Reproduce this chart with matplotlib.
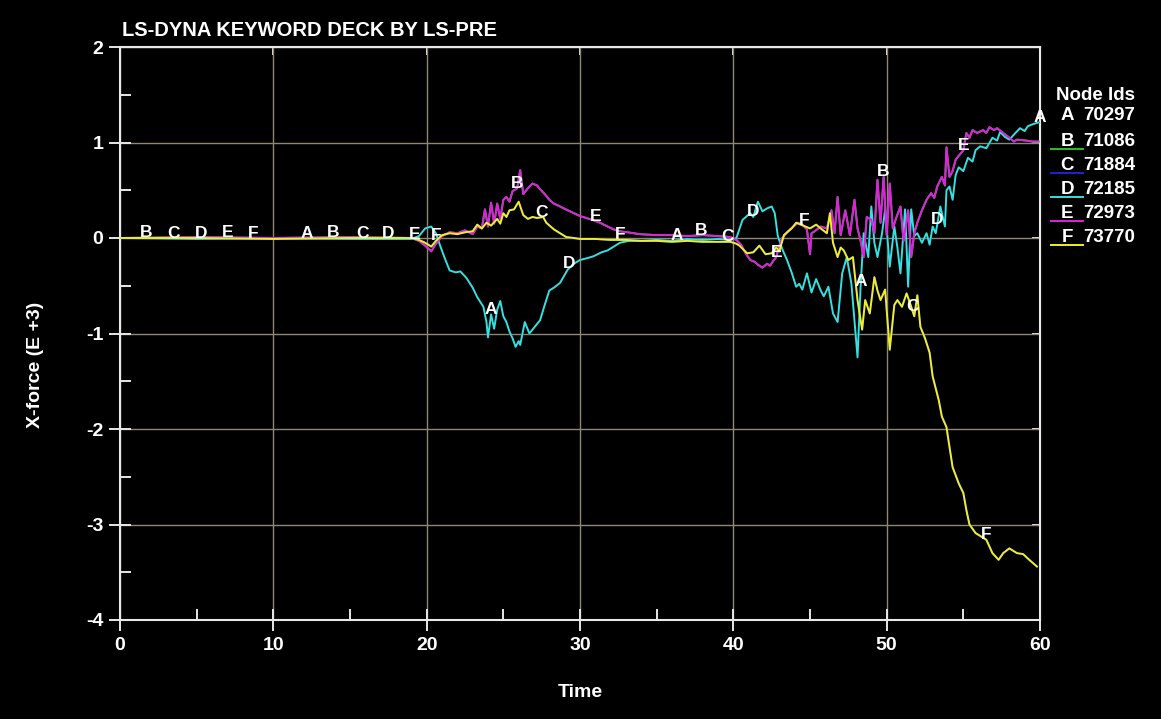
import numpy as np
import matplotlib
matplotlib.use("Agg")
import matplotlib.pyplot as plt
from matplotlib.lines import Line2D

plt.rcParams['font.family'] = ['Liberation Sans Narrow', 'Liberation Sans', 'DejaVu Sans']
plt.rcParams['font.weight'] = 'bold'
plt.rcParams['axes.unicode_minus'] = False

# ---- data (time, X-force in E+3) ----
node_ids = ['70297', '71086', '71884', '72185', '72973', '73770']
letters = ['A', 'B', 'C', 'D', 'E', 'F']
colors = ['#000000', '#22c322', '#2020e0', '#35e0e0', '#e020e0', '#f0f020']

d_time = [0, 5, 10, 15, 19.0, 19.5, 19.9, 20.3, 20.6, 20.9,
          21.2, 21.5, 21.9, 22.2, 22.6, 23.0, 23.3, 23.7, 23.9, 24.0,
          24.2, 24.4, 24.6, 24.8, 25.0, 25.2, 25.4, 25.6, 25.8, 26.0,
          26.1, 26.4, 26.7, 27.0, 27.4, 27.7, 28.0, 28.3, 28.7, 29.2,
          29.6, 30.0, 30.5, 30.9, 31.4, 31.8, 32.2, 32.6, 33.2, 34,
          35, 36, 37, 38, 39, 39.8, 40.2, 40.6, 41.1, 41.3,
          41.6, 41.9, 42.2, 42.5, 42.7, 42.9, 43.2, 43.5, 43.8, 44.1,
          44.3, 44.5, 44.8, 45.1, 45.4, 45.7, 45.9, 46.2, 46.5, 46.8,
          47.1, 47.4, 47.7, 48.1, 48.3, 48.5, 48.8, 49.0, 49.2, 49.4,
          49.7, 49.9, 50.2, 50.5, 50.7, 50.9, 51.2, 51.4, 51.6, 51.8,
          52.0, 52.3, 52.6, 52.8, 53.0, 53.2, 53.5, 53.8, 53.9, 54.1,
          54.3, 54.5, 54.7, 55.0, 55.3, 55.6, 55.8, 56.1, 56.5, 56.9,
          57.2, 57.4, 57.7, 58.0, 58.4, 58.7, 59.0, 59.2, 59.5, 59.9]
d_force = [0.0, -0.01, 0.0, -0.01, -0.01, 0.02, 0.10, 0.12, 0.05, -0.09,
           -0.22, -0.34, -0.36, -0.35, -0.42, -0.52, -0.62, -0.72, -0.88, -1.04,
           -0.80, -0.95, -0.75, -0.66, -0.82, -0.88, -0.98, -1.05, -1.14, -1.08,
           -1.12, -0.88, -1.00, -0.94, -0.86, -0.70, -0.55, -0.52, -0.47, -0.33,
           -0.27, -0.23, -0.21, -0.19, -0.15, -0.13, -0.09, -0.05, -0.03, -0.03,
           -0.02, -0.03, -0.01, -0.02, -0.01, -0.02, 0.00, 0.19, 0.26, 0.22,
           0.38, 0.28, 0.31, 0.33, 0.26, 0.02, -0.12, -0.23, -0.36, -0.51,
           -0.48, -0.54, -0.37, -0.57, -0.43, -0.55, -0.61, -0.51, -0.79, -0.88,
           -0.37, -0.20, -0.48, -1.25, -0.51, 0.05, -0.20, 0.33, -0.05, -0.20,
           0.05, 0.30, -0.30, 0.12, -0.10, -0.37, 0.30, -0.51, 0.30, 0.02,
           0.05, -0.05, 0.05, -0.07, 0.12, 0.05, 0.33, 0.12, 0.50, 0.54,
           0.40, 0.66, 0.74, 0.70, 0.84, 0.80, 0.92, 0.96, 0.94, 1.05,
           1.02, 1.11, 1.06, 1.03, 1.10, 1.15, 1.12, 1.17, 1.19, 1.21]

e_time = [0, 5, 10, 15, 19.0, 19.5, 19.9, 20.3, 20.6, 21.0,
          21.5, 22.0, 22.5, 23.0, 23.3, 23.6, 23.8, 24.0, 24.2, 24.4,
          24.6, 24.8, 25.0, 25.2, 25.4, 25.6, 25.9, 26.1, 26.3, 26.6,
          26.9, 27.2, 27.4, 27.7, 28.0, 28.3, 28.7, 29.2, 29.6, 30.0,
          30.4, 30.8, 31.3, 31.8, 32.2, 32.6, 33.1, 33.9, 35, 36,
          37, 38, 39, 39.8, 40.2, 40.5, 40.8, 41.1, 41.4, 41.6,
          41.9, 42.2, 42.4, 42.6, 42.8, 43.0, 43.2, 43.5, 43.7, 44.0,
          44.2, 44.5, 44.8, 45.0, 45.1, 45.3, 45.7, 46.1, 46.4, 46.6,
          46.8, 47.0, 47.3, 47.6, 47.9, 48.1, 48.3, 48.5, 48.7, 49.0,
          49.2, 49.4, 49.6, 49.8, 50.0, 50.2, 50.4, 50.6, 50.9, 51.1,
          51.4, 51.6, 51.8, 52.0, 52.3, 52.6, 52.9, 53.1, 53.3, 53.6,
          53.8, 53.9, 54.1, 54.3, 54.5, 54.8, 55.0, 55.2, 55.4, 55.6,
          55.9, 56.3, 56.5, 56.7, 57.0, 57.2, 57.6, 58.0, 58.3, 58.5,
          59.1, 59.5, 59.9]
e_force = [0.0, 0.01, 0.0, 0.01, 0.0, -0.03, -0.08, -0.14, -0.06, 0.02,
           0.06, 0.05, 0.08, 0.04, 0.12, 0.10, 0.30, 0.12, 0.37, 0.15,
           0.36, 0.20, 0.40, 0.43, 0.38, 0.49, 0.52, 0.71, 0.46, 0.52,
           0.57, 0.55, 0.51, 0.46, 0.40, 0.36, 0.33, 0.29, 0.26, 0.23,
           0.21, 0.19, 0.16, 0.12, 0.09, 0.07, 0.06, 0.04, 0.03, 0.03,
           0.02, 0.03, 0.02, 0.01, -0.02, -0.07, -0.16, -0.23, -0.25, -0.28,
           -0.31, -0.27, -0.29, -0.24, -0.20, -0.08, 0.00, 0.06, 0.09, 0.13,
           0.16, 0.14, 0.09, -0.17, 0.05, 0.07, 0.12, 0.10, 0.29, 0.05,
           0.43, 0.03, 0.29, 0.03, 0.40, 0.10, -0.03, -0.20, 0.22, 0.19,
           0.05, 0.61, 0.16, 0.64, 0.03, 0.57, 0.10, 0.20, 0.33, -0.03,
           0.29, -0.20, 0.05, 0.16, 0.29, 0.40, 0.47, 0.42, 0.54, 0.64,
           0.55, 0.95, 0.64, 0.70, 0.82, 0.88, 0.92, 1.10, 1.05, 1.13,
           1.10, 1.13, 1.10, 1.16, 1.13, 1.15, 1.10, 1.05, 1.01, 1.03,
           1.02, 1.01, 1.01]

f_time = [0, 5, 10, 15, 19.0, 19.5, 19.9, 20.3, 20.6, 21.0,
          21.5, 22.0, 22.5, 23.0, 23.3, 23.6, 23.9, 24.2, 24.6, 24.8,
          25.0, 25.2, 25.4, 25.7, 26.0, 26.3, 26.6, 26.9, 27.2, 27.6,
          27.8, 28.3, 28.7, 29.1, 29.6, 30.0, 31, 32, 33, 34,
          35, 36, 37, 38, 39, 39.8, 40.2, 40.4, 40.9, 41.3,
          41.7, 42.1, 42.5, 42.8, 43.0, 43.3, 43.8, 44.1, 44.4, 44.7,
          45.0, 45.4, 45.7, 46.1, 46.3, 46.5, 46.8, 47.0, 47.2, 47.5,
          47.8, 48.1, 48.4, 48.6, 48.9, 49.2, 49.4, 49.6, 49.9, 50.0,
          50.2, 50.5, 50.7, 51.0, 51.3, 51.6, 51.8, 52.0, 52.2, 52.5,
          52.6, 52.8, 53.0, 53.4, 53.6, 53.9, 54.1, 54.3, 54.7, 55.0,
          55.2, 55.4, 55.8, 56.1, 56.5, 56.9, 57.3, 57.6, 58.0, 58.5,
          58.9, 59.3, 59.8]
f_force = [0.0, 0.0, -0.01, 0.0, 0.0, -0.02, -0.05, -0.09, -0.03, 0.03,
           0.05, 0.04, 0.06, 0.07, 0.14, 0.10, 0.16, 0.13, 0.20, 0.15,
           0.26, 0.22, 0.29, 0.30, 0.38, 0.24, 0.20, 0.22, 0.21, 0.22,
           0.16, 0.09, 0.05, 0.01, 0.00, -0.01, -0.01, -0.02, -0.02, -0.03,
           -0.03, -0.04, -0.03, -0.04, -0.04, -0.04, -0.06, -0.08, -0.16, -0.15,
           -0.08, -0.17, -0.16, -0.10, -0.14, 0.03, 0.10, 0.16, 0.14, 0.12,
           0.10, 0.14, 0.10, 0.05, 0.26, -0.05, -0.20, -0.10, -0.13, -0.23,
           -0.20, -0.65, -0.96, -0.65, -0.79, -0.41, -0.55, -0.65, -0.54, -0.75,
           -1.17, -0.70, -0.65, -0.72, -0.58, -0.72, -0.82, -0.60, -0.93, -1.05,
           -1.10, -1.20, -1.45, -1.70, -1.87, -1.98, -2.19, -2.40, -2.57, -2.67,
           -2.85, -3.00, -3.09, -3.12, -3.16, -3.30, -3.37, -3.30, -3.25, -3.30,
           -3.31, -3.37, -3.44]

# nodes A, B, C run underneath D, E, F in the picture
a_time, a_force = d_time, d_force
b_time, b_force = e_time, e_force
c_time, c_force = f_time, f_force

label_times = [
    [12.2, 24.2, 36.3, 48.3, 60.0],
    [1.7, 13.9, 25.9, 37.9, 49.8],
    [3.5, 15.8, 27.5, 39.6, 51.7],
    [5.3, 17.5, 29.3, 41.3, 53.3],
    [7.0, 19.2, 31.0, 42.8, 55.0],
    [8.7, 20.6, 32.6, 44.6, 56.5],
]

series = [(a_time, a_force), (b_time, b_force), (c_time, c_force),
          (d_time, d_force), (e_time, e_force), (f_time, f_force)]

fg = '#e8e8e8'
grid_c = '#8e8776'
major_x = [0, 10, 20, 30, 40, 50, 60]
major_y = [-4, -3, -2, -1, 0, 1, 2]

fig = plt.figure(figsize=(11.61, 7.19), dpi=100, facecolor='black')
ax = fig.add_axes([120 / 1161, 1 - 620 / 719, 920 / 1161, 573 / 719])
ax.set_facecolor('black')

for (t, v), c in zip(series, colors):
    ax.plot(t, v, color=c, lw=1.4, zorder=3)

for (t, v), lab, times in zip(series, letters, label_times):
    for lt in times:
        ax.annotate(lab, (lt, np.interp(lt, t, v)), xytext=(0, 5),
                    textcoords='offset pixels', ha='center', va='center',
                    color='white', fontsize=12.5, fontweight='bold',
                    zorder=5, annotation_clip=False)

ax.set_xlim(0, 60)
ax.set_ylim(-4, 2)
ax.set_xticks(major_x)
ax.set_yticks(major_y)
ax.set_xticks([5, 15, 25, 35, 45, 55], minor=True)
ax.set_yticks([-3.5, -2.5, -1.5, -0.5, 0.5, 1.5], minor=True)
ax.grid(True, which='major', color=grid_c, lw=1.0)
ax.set_axisbelow(True)

for s in ax.spines.values():
    s.set_color(fg)
    s.set_linewidth(1.5)

ax.tick_params(which='major', direction='inout', length=16, width=1.4,
               colors=fg, labelsize=14, pad=4)
ax.tick_params(which='minor', direction='in', length=8, width=1.4, colors=fg)
ax.tick_params(axis='x', which='major', pad=4)
for lbl in ax.get_xticklabels() + ax.get_yticklabels():
    lbl.set_fontweight('bold')
    lbl.set_color('white')

# short inward ticks on the top and right frame
top = ax.secondary_xaxis('top')
top.set_xticks(major_x)
top.tick_params(direction='in', length=6, width=1.4, colors=fg, labeltop=False)
top.spines['top'].set_color(fg)
right = ax.secondary_yaxis('right')
right.set_yticks(major_y)
right.tick_params(direction='in', length=6, width=1.4, colors=fg, labelright=False)
right.spines['right'].set_color(fg)

ax.set_xlabel('Time', color='white', fontsize=14, fontweight='bold', labelpad=22)
ax.set_ylabel('X-force (E +3)', color='white', fontsize=14, fontweight='bold')
ax.yaxis.set_label_coords(-0.083, 0.445)

fig.text(122 / 1161, 1 - 30 / 719, 'LS-DYNA KEYWORD DECK BY LS-PRE',
         color='white', fontsize=14.5, fontweight='bold', ha='left', va='center')

# legend on the right
fig.text(1095 / 1161, 1 - 95 / 719, 'Node Ids', color='white', fontsize=13.5,
         fontweight='bold', ha='center', va='center')
row_y = [116, 141, 165, 189, 213, 237]
for lab, nid, c, ry in zip(letters, node_ids, colors, row_y):
    fig.text(1067 / 1161, 1 - ry / 719, lab, color='white', fontsize=13.5,
             fontweight='bold', ha='center', va='center')
    fig.text(1083 / 1161, 1 - ry / 719, nid, color='white', fontsize=13.5,
             fontweight='bold', ha='left', va='center')
    fig.add_artist(Line2D([1051 / 1161, 1083 / 1161],
                          [1 - (ry + 8) / 719, 1 - (ry + 8) / 719],
                          color=c, lw=1.4))

fig.savefig('out.png', dpi=100, facecolor='black')
